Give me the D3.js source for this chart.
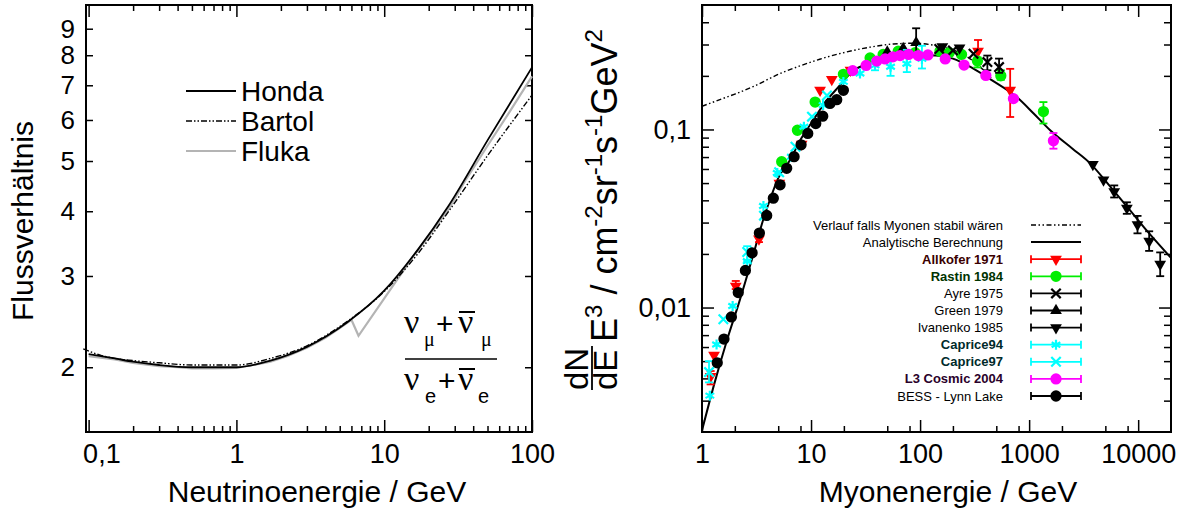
<!DOCTYPE html>
<html><head><meta charset="utf-8">
<script src="https://cdn.jsdelivr.net/npm/d3@7"></script>
<style>body{margin:0;background:#fff} svg{display:block}</style>
</head><body><svg id="c" width="1189" height="518"></svg>
<script>
// ---------------- LEFT PANEL DATA ----------------
const hondaE  = [0.1,0.15,0.2,0.3,0.5,0.7,1,1.7,3,5.6,10,17,27,50,100];
const hondaV  = [2.12,2.08,2.05,2.02,2.0,2.0,2.0,2.06,2.19,2.44,2.81,3.38,4.08,5.48,7.58];
const bartolE = [0.092,0.12,0.15,0.2,0.3,0.5,0.7,1,1.7,3,5.6,10,17,27,50,100];
const bartolV = [2.17,2.11,2.08,2.06,2.04,2.02,2.02,2.02,2.08,2.2,2.45,2.8,3.32,3.98,5.12,6.7];
const flukaE  = [0.1,0.15,0.2,0.3,0.4,0.5,0.7,1,1.3,1.7,2.2,3,4,5,6.0,6.7,15.8,20,27,35,50,70,100];
const flukaV  = [2.1,2.07,2.04,2.01,2.0,1.99,1.99,1.995,2.02,2.05,2.1,2.18,2.28,2.38,2.47,2.30,3.28,3.58,4.02,4.56,5.35,6.2,7.28];
const leftXTicks = [0.1,1,10,100];
const leftXLabels = ["0,1","1","10","100"];
const leftYTicks = [2,3,4,5,6,7,8,9];
const leftYLabels = ["2","3","4","5","6","7","8","9"];
const leftLegend = ["Honda","Bartol","Fluka"];

// ---------------- RIGHT PANEL DATA ----------------
const analyticE = [1,1.3,1.7,2.2,3,3.64,4.2,5,6.42,8,10.5,13,17.2,24.4,35,50,70,100,140,200,300,450,770,1100,1560,2500,3630,5500,7870,12000,20000];
const analyticF = [0.00204,0.00375,0.0066,0.0108,0.0205,0.0311,0.0403,0.0533,0.0673,0.0875,0.113,0.138,0.169,0.214,0.235,0.25,0.258,0.262,0.26,0.25,0.222,0.19,0.152,0.123,0.099,0.078,0.0645,0.048,0.037,0.027,0.019];
const stableE = [1,1.5,2,3,5.2,8,12,21,35,57,90,130,200,300,450];
const stableF = [0.135,0.148,0.158,0.175,0.206,0.228,0.248,0.272,0.29,0.302,0.305,0.298,0.28,0.245,0.195];

const allkoferE = [1.2,1.29,2.04,3.33,5.12,8.2,12.1,15.5,23,340,670];
const allkoferF = [0.0041,0.0054,0.0132,0.0243,0.05,0.0828,0.166,0.191,0.215,0.275,0.166];
const allkoferLo = [0.0037,null,0.0127,0.0233,null,null,null,null,null,0.234,0.1175];
const allkoferHi = [0.0044,null,0.0141,0.0257,null,null,null,null,null,0.318,0.219];

const rastinE = [5.38,7.5,10.9,19.8,34.8,45.8,63,90,152,185,240,336,550,1352];
const rastinF = [0.0659,0.099,0.1426,0.204,0.252,0.264,0.275,0.27,0.275,0.27,0.264,0.242,0.2,0.126];
const rastinLo = [null,null,null,null,null,null,null,null,null,null,null,0.223,0.19,0.108];
const rastinHi = [null,null,null,null,null,null,null,null,null,null,null,0.254,0.215,0.1425];

const ayreE = [150,200,309,414,530];
const ayreF = [0.283,0.278,0.266,0.239,0.224];
const ayreLo = [null,null,null,0.215,0.208];
const ayreHi = [null,null,null,0.26,0.25];

const greenE = [50,70,92];
const greenF = [0.272,0.285,0.307];
const greenLo = [null,null,0.262];
const greenHi = [null,null,0.37];

const ivanenkoE = [160,230,3840,4810,6030,7875,9860,12610,15920];
const ivanenkoF = [0.292,0.287,0.0637,0.0521,0.0448,0.0362,0.0292,0.0236,0.0175];
const ivanenkoLo = [null,null,null,null,0.0415,0.0336,0.0261,0.0208,0.015];
const ivanenkoHi = [null,null,null,null,0.0485,0.039,0.0327,0.0268,0.0204];

const caprice94E = [1.18,1.36,1.91,2.6,3.66,4.9,6.6,8.6,12.9,19.8,28.1,38.6,53.6,75.6,104];
const caprice94F = [0.0032,0.0062,0.0102,0.0182,0.0372,0.057,0.0703,0.1035,0.137,0.185,0.206,0.229,0.225,0.234,0.249];
const caprice94Lo = [null,null,null,null,null,null,null,null,null,null,null,0.215,0.2,0.21,0.22];
const caprice94Hi = [null,null,null,null,null,null,null,null,null,null,null,0.245,0.25,0.28,0.295];

const caprice97E = [1.16,1.57,2.6,3.7,5.1,7.2,10.2,14];
const caprice97F = [0.00434,0.0086,0.0205,0.0328,0.0575,0.08,0.118,0.155];
const caprice97Lo = [0.0038,null,0.0182,null,null,null,null,null];
const caprice97Hi = [0.005,null,0.0221,null,null,null,null,null];

const l3E = [24.1,32,40.1,47.8,56.3,65.5,78.5,96.2,118,170,253,401,718,1670];
const l3F = [0.214,0.229,0.242,0.249,0.256,0.26,0.264,0.26,0.262,0.249,0.23,0.201,0.149,0.0863];
const l3Lo = [null,null,null,null,null,null,null,null,null,null,null,null,null,0.078];
const l3Hi = [null,null,null,null,null,null,null,null,null,null,null,null,null,0.0955];

const bessE = [1.38,1.59,1.86,2.15,2.5,2.88,3.36,3.92,4.51,5.2,5.98,6.99,8.1,9.33,11.05,12.8,14.9,17.2,19.8];
const bessF = [0.00489,0.00665,0.00886,0.01213,0.01615,0.0203,0.0262,0.0329,0.0411,0.0489,0.0605,0.0703,0.082,0.095,0.108,0.1187,0.14,0.147,0.166];

const rightXTicks = [1,10,100,1000,10000];
const rightXLabels = ["1","10","100","1000","10000"];
const rightYTicks = [0.01,0.1];
const rightYLabels = ["0,01","0,1"];

// ---------------- DRAWING ----------------
const SANS = '"Liberation Sans", Arial, Helvetica, sans-serif';
const SERIF = '"Liberation Serif", "Times New Roman", serif';
const svg = d3.select("#c");

function minors(lo, hi, mults){
  const out=[];
  for(let d=Math.floor(Math.log10(lo)); d<=Math.ceil(Math.log10(hi)); d++){
    for(const m of mults){ const v=m*Math.pow(10,d); if(v>lo*1.0001 && v<hi*0.9999) out.push(v); }
  }
  return out;
}
function axis(g, fn, scale, vals, size, labels, transform, pad, fs){
  const ax = fn(scale).tickValues(vals).tickSize(-size).tickPadding(pad||8)
    .tickFormat(labels ? ((d,i)=>labels[i]) : "");
  const s = g.append("g").attr("transform",transform).call(ax);
  s.select(".domain").remove();
  s.attr("font-family",SANS).attr("font-size",fs||27);
  s.selectAll("line").attr("stroke","#000").attr("stroke-width",1.5);
  s.selectAll("text").attr("fill","#000");
  return s;
}

// ===== Left =====
const xL = d3.scaleLog().domain([0.096,100]).range([86,532]);
const yL = d3.scaleLog().domain([1.5,10]).range([432,5]);
const gL = svg.append("g");
const xLmin = minors(0.096,100,[2,3,4,5,6,7,8,9]);
const axLB = axis(gL, d3.axisBottom, xL, leftXTicks, 12, leftXLabels, "translate(0,432)", 12);
axLB.selectAll(".tick text").filter(d=>d===0.1).attr("text-anchor","start").attr("x",-6);
axis(gL, d3.axisBottom, xL, xLmin, 6, null, "translate(0,432)");
axis(gL, d3.axisTop, xL, leftXTicks, 12, null, "translate(0,5)");
axis(gL, d3.axisTop, xL, xLmin, 6, null, "translate(0,5)");
axis(gL, d3.axisLeft, yL, leftYTicks, 7, leftYLabels, "translate(86,0)", 11, 26);
axis(gL, d3.axisRight, yL, leftYTicks, 7, null, "translate(532,0)");
gL.append("rect").attr("x",86).attr("y",5).attr("width",446).attr("height",427)
  .attr("fill","none").attr("stroke","#000").attr("stroke-width",2);

const lineL = d3.line().x(d=>xL(d[0])).y(d=>yL(d[1])).curve(d3.curveMonotoneX);
const lineLlin = d3.line().x(d=>xL(d[0])).y(d=>yL(d[1]));
gL.append("path").attr("d",lineLlin(flukaE.map((e,i)=>[e,flukaV[i]])))
  .attr("fill","none").attr("stroke","#b4b4b4").attr("stroke-width",2.2);
gL.append("path").attr("d",lineL(bartolE.map((e,i)=>[e,bartolV[i]])))
  .attr("fill","none").attr("stroke","#000").attr("stroke-width",1.4).attr("stroke-dasharray","6,2,1.5,2,1.5,2");
gL.append("path").attr("d",lineL(hondaE.map((e,i)=>[e,hondaV[i]])))
  .attr("fill","none").attr("stroke","#000").attr("stroke-width",1.8);

// legend left
const legStyles = [{c:"#000",w:1.8,da:null},{c:"#000",w:1.4,da:"6,2,1.5,2,1.5,2"},{c:"#b4b4b4",w:2.2,da:null}];
leftLegend.forEach((t,i)=>{
  const y = 91 + i*30;
  gL.append("line").attr("x1",186).attr("x2",236).attr("y1",y).attr("y2",y)
    .attr("stroke",legStyles[i].c).attr("stroke-width",legStyles[i].w).attr("stroke-dasharray",legStyles[i].da);
  gL.append("text").attr("x",241).attr("y",y+10).attr("font-family",SANS).attr("font-size",28).text(t);
});

// axis titles left
gL.append("text").attr("x",317).attr("y",502).attr("text-anchor","middle")
  .attr("font-family",SANS).attr("font-size",30).text("Neutrinoenergie / GeV");
gL.append("text").attr("transform","translate(33,221) rotate(-90)").attr("text-anchor","middle")
  .attr("font-family",SANS).attr("font-size",30).text("Flussverhältnis");

// fraction annotation
const fr = gL.append("g");
function nu(x,y,bar){
  fr.append("text").attr("x",x).attr("y",y).attr("font-family",SERIF).attr("font-size",34).text("ν");
  if(bar) fr.append("line").attr("x1",x+1).attr("x2",x+17).attr("y1",y-21).attr("y2",y-21).attr("stroke","#000").attr("stroke-width",2);
}
function sub(x,y,t){ fr.append("text").attr("x",x).attr("y",y).attr("font-family",t==="μ"?SERIF:SANS).attr("font-size",20).text(t); }
function plus(x,y){ fr.append("text").attr("x",x).attr("y",y).attr("font-family",SANS).attr("font-size",30).text("+"); }
nu(404,333,false); sub(424,346,"μ"); plus(436,334); nu(458,333,true); sub(481,346,"μ");
fr.append("line").attr("x1",405).attr("x2",497).attr("y1",359).attr("y2",359).attr("stroke","#000").attr("stroke-width",1.6);
nu(404,390,false); sub(425,403,"e"); plus(438,391); nu(458,390,true); sub(478,403,"e");

// ===== Right =====
const xR = d3.scaleLog().domain([1,20000]).range([702,1171]);
const yR = d3.scaleLog().domain([0.002,0.5]).range([432,5]);
const gR = svg.append("g");
const xRmin = minors(1,20000,[2,5,8]);
const yRmin = minors(0.002,0.5,[2,3,4,5,6,7,8,9]);
axis(gR, d3.axisBottom, xR, rightXTicks, 12, rightXLabels, "translate(0,432)", 12);
axis(gR, d3.axisBottom, xR, xRmin, 6, null, "translate(0,432)");
axis(gR, d3.axisTop, xR, rightXTicks, 12, null, "translate(0,5)");
axis(gR, d3.axisTop, xR, xRmin, 6, null, "translate(0,5)");
axis(gR, d3.axisLeft, yR, rightYTicks, 12, rightYLabels, "translate(702,0)", 11);
axis(gR, d3.axisLeft, yR, yRmin, 7, null, "translate(702,0)");
axis(gR, d3.axisRight, yR, rightYTicks, 12, null, "translate(1171,0)");
axis(gR, d3.axisRight, yR, yRmin, 7, null, "translate(1171,0)");

svg.append("defs").append("clipPath").attr("id","clipR")
  .append("rect").attr("x",702).attr("y",5).attr("width",469).attr("height",427);
const plotR = gR.append("g").attr("clip-path","url(#clipR)");
const lineR = d3.line().x(d=>xR(d[0])).y(d=>yR(d[1])).curve(d3.curveMonotoneX);
const DASHDOT = "5,2.5,1.5,2.5,1.5,2.5";
plotR.append("path").attr("d",lineR(stableE.map((e,i)=>[e,stableF[i]])))
  .attr("fill","none").attr("stroke","#000").attr("stroke-width",1.4).attr("stroke-dasharray",DASHDOT);
plotR.append("path").attr("d",lineR(analyticE.map((e,i)=>[e,analyticF[i]])))
  .attr("fill","none").attr("stroke","#000").attr("stroke-width",2);

const series = [
  {name:"Allkofer 1971", E:allkoferE, F:allkoferF, lo:allkoferLo, hi:allkoferHi, c:"#ff0000", sym:"tdown", bold:true, tc:"#3a0000"},
  {name:"Rastin 1984", E:rastinE, F:rastinF, lo:rastinLo, hi:rastinHi, c:"#00ee00", sym:"circle", bold:true, tc:"#003300"},
  {name:"Ayre 1975", E:ayreE, F:ayreF, lo:ayreLo, hi:ayreHi, c:"#000", sym:"x", bold:false, tc:"#000"},
  {name:"Green 1979", E:greenE, F:greenF, lo:greenLo, hi:greenHi, c:"#000", sym:"tup", bold:false, tc:"#000"},
  {name:"Ivanenko 1985", E:ivanenkoE, F:ivanenkoF, lo:ivanenkoLo, hi:ivanenkoHi, c:"#000", sym:"tdown", bold:false, tc:"#000"},
  {name:"Caprice94", E:caprice94E, F:caprice94F, lo:caprice94Lo, hi:caprice94Hi, c:"#00ffff", sym:"star", bold:true, tc:"#002a2a"},
  {name:"Caprice97", E:caprice97E, F:caprice97F, lo:caprice97Lo, hi:caprice97Hi, c:"#00ffff", sym:"x", bold:true, tc:"#002a2a"},
  {name:"L3 Cosmic 2004", E:l3E, F:l3F, lo:l3Lo, hi:l3Hi, c:"#ff00ff", sym:"circle", bold:true, tc:"#2a002a"},
  {name:"BESS - Lynn Lake", E:bessE, F:bessF, lo:null, hi:null, c:"#000", sym:"circle", bold:false, tc:"#000"}
];

function marker(g, x, y, s){
  if(s.sym==="circle"){
    g.append("path").attr("d",d3.symbol(d3.symbolCircle,100)()).attr("transform",`translate(${x},${y})`).attr("fill",s.c);
  } else if(s.sym==="tdown"||s.sym==="tup"){
    g.append("path").attr("d",d3.symbol(d3.symbolTriangle,60)())
      .attr("transform",`translate(${x},${y}) rotate(${s.sym==="tdown"?180:0})`).attr("fill",s.c);
  } else if(s.sym==="x"){
    g.append("path").attr("d",d3.symbol(d3.symbolX,60)()).attr("transform",`translate(${x},${y})`)
      .attr("fill","none").attr("stroke",s.c).attr("stroke-width",2.2);
  } else if(s.sym==="star"){
    g.append("path").attr("d",d3.symbol(d3.symbolAsterisk,70)()).attr("transform",`translate(${x},${y})`)
      .attr("fill","none").attr("stroke",s.c).attr("stroke-width",2.2);
  }
}
series.forEach(s=>{
  const g = plotR.append("g");
  s.E.forEach((e,i)=>{
    const x = xR(e), y = yR(s.F[i]);
    if(s.lo && s.lo[i]!=null){
      const y1=yR(s.lo[i]), y2=yR(s.hi[i]);
      g.append("line").attr("x1",x).attr("x2",x).attr("y1",y1).attr("y2",y2).attr("stroke",s.c).attr("stroke-width",1.8);
      [y1,y2].forEach(yy=>g.append("line").attr("x1",x-4).attr("x2",x+4).attr("y1",yy).attr("y2",yy).attr("stroke",s.c).attr("stroke-width",1.8));
    }
    marker(g,x,y,s);
  });
});

gR.append("rect").attr("x",702).attr("y",5).attr("width",469).attr("height",427)
  .attr("fill","none").attr("stroke","#000").attr("stroke-width",2);

// legend right
const legR = gR.append("g").attr("font-family",SANS).attr("font-size",13);
const rowY = i => 225 + i*17.1;
legR.append("text").attr("x",1003).attr("y",rowY(0)+4.5).attr("text-anchor","end").text("Verlauf falls Myonen stabil wären");
legR.append("line").attr("x1",1031).attr("x2",1081).attr("y1",rowY(0)).attr("y2",rowY(0)).attr("stroke","#000").attr("stroke-width",1.4).attr("stroke-dasharray",DASHDOT);
legR.append("text").attr("x",1003).attr("y",rowY(1)+4.5).attr("text-anchor","end").text("Analytische Berechnung");
legR.append("line").attr("x1",1031).attr("x2",1081).attr("y1",rowY(1)).attr("y2",rowY(1)).attr("stroke","#000").attr("stroke-width",2);
series.forEach((s,k)=>{
  const y = rowY(k+2);
  legR.append("text").attr("x",1003).attr("y",y+4.5).attr("text-anchor","end")
    .attr("font-weight",s.bold?"bold":"normal").attr("fill",s.tc).text(s.name);
  legR.append("line").attr("x1",1031).attr("x2",1081).attr("y1",y).attr("y2",y).attr("stroke",s.c).attr("stroke-width",1.8);
  [1031,1081].forEach(x=>legR.append("line").attr("x1",x).attr("x2",x).attr("y1",y-4).attr("y2",y+4).attr("stroke",s.c).attr("stroke-width",1.8));
  marker(legR,1056,y,s);
});

// axis titles right
gR.append("text").attr("x",948).attr("y",502).attr("text-anchor","middle")
  .attr("font-family",SANS).attr("font-size",30).text("Myonenergie / GeV");

const yt = gR.append("g").attr("transform","translate(617,390) rotate(-90)").attr("font-family",SANS);
yt.append("text").attr("x",0).attr("y",-29).attr("font-size",33).text("dN");
yt.append("line").attr("x1",0).attr("x2",44).attr("y1",-25).attr("y2",-25).attr("stroke","#000").attr("stroke-width",1.8);
yt.append("text").attr("x",0).attr("y",0).attr("font-size",33).text("dE");
const t2 = yt.append("text").attr("x",48).attr("y",0).attr("font-size",36);
t2.append("tspan").text("E");
t2.append("tspan").attr("font-size",24).attr("dy",-15).text("3");
t2.append("tspan").attr("dy",15).text(" / cm");
t2.append("tspan").attr("font-size",24).attr("dy",-15).text("-2");
t2.append("tspan").attr("dy",15).text("sr");
t2.append("tspan").attr("font-size",24).attr("dy",-15).text("-1");
t2.append("tspan").attr("dy",15).text("s");
t2.append("tspan").attr("font-size",24).attr("dy",-15).text("-1");
t2.append("tspan").attr("dy",15).text("GeV");
t2.append("tspan").attr("font-size",24).attr("dy",-15).text("2");
</script></body></html>
